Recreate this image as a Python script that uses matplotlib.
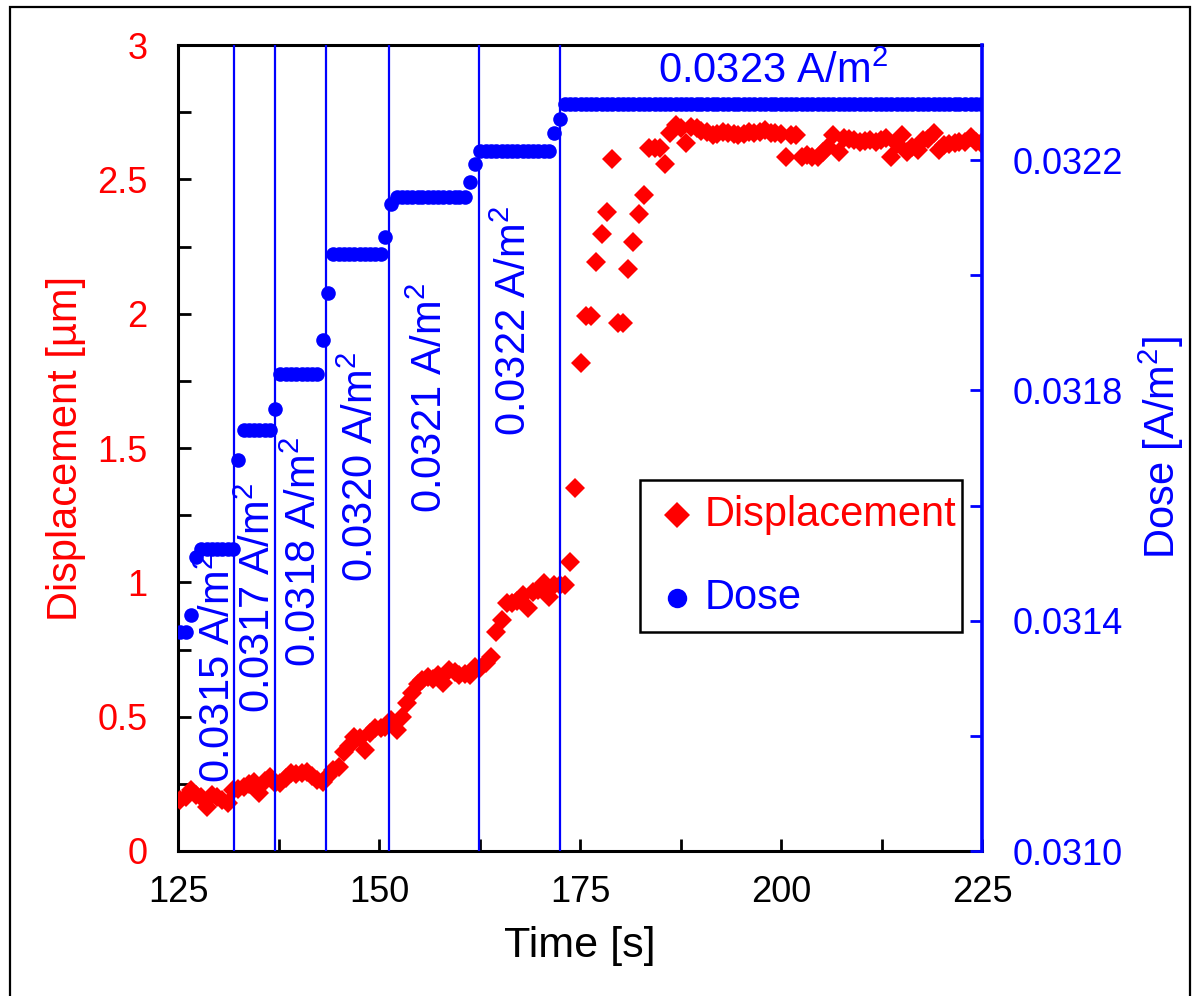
import matplotlib
matplotlib.use('Agg')
import matplotlib.pyplot as plt
from matplotlib.ticker import MultipleLocator, FixedLocator, FuncFormatter
from matplotlib.lines import Line2D
from matplotlib.patches import Rectangle

plt.rcParams['font.family'] = ['Liberation Sans', 'DejaVu Sans']
plt.rcParams['mathtext.fontset'] = 'custom'
plt.rcParams['mathtext.rm'] = 'Liberation Sans'
plt.rcParams['mathtext.it'] = 'Liberation Sans'
plt.rcParams['mathtext.default'] = 'regular'

# ---------------- data ----------------
time_s = [
    125.3, 126.0, 126.6, 127.3, 127.9, 128.6, 129.2, 129.9, 130.5, 131.2,
    131.9, 132.5, 133.2, 133.8, 134.5, 135.1, 135.8, 136.4, 137.1, 137.7,
    138.4, 139.1, 139.7, 140.4, 141.0, 141.7, 142.3, 143.0, 143.6, 144.3,
    145.0, 145.6, 146.3, 146.9, 147.6, 148.2, 148.9, 149.5, 150.2, 150.8,
    151.5, 152.2, 152.8, 153.5, 154.1, 154.8, 155.4, 156.1, 156.7, 157.4,
    158.0, 158.7, 159.4, 160.0, 160.7, 161.3, 162.0, 162.6, 163.3, 163.9,
    164.6, 165.3, 165.9, 166.6, 167.2, 167.9, 168.5, 169.2, 169.8, 170.5,
    171.2, 171.8, 172.5, 173.1, 173.8, 174.4, 175.1, 175.7, 176.4, 177.0,
    177.7, 178.4, 179.0, 179.7, 180.3, 181.0, 181.6, 182.3, 182.9, 183.6,
    184.3, 184.9, 185.6, 186.2, 186.9, 187.5, 188.2, 188.8, 189.5, 190.1,
    190.8, 191.5, 192.1, 192.8, 193.4, 194.1, 194.7, 195.4, 196.0, 196.7,
    197.4, 198.0, 198.7, 199.3, 200.0, 200.6, 201.3, 201.9, 202.6, 203.2,
    203.9, 204.6, 205.2, 205.9, 206.5, 207.2, 207.8, 208.5, 209.1, 209.8,
    210.5, 211.1, 211.8, 212.4, 213.1, 213.7, 214.4, 215.0, 215.7, 216.3,
    217.0, 217.7, 218.3, 219.0, 219.6, 220.3, 220.9, 221.6, 222.2, 222.9,
    223.6, 224.2, 224.9,
]

displacement_um = [
    0.19, 0.20, 0.227, 0.21, 0.20, 0.165, 0.21, 0.20, 0.19, 0.178,
    0.227, 0.23, 0.24, 0.25, 0.258, 0.216, 0.26, 0.277, 0.252, 0.252,
    0.27, 0.29, 0.285, 0.29, 0.295, 0.28, 0.264, 0.258, 0.28, 0.30,
    0.314, 0.37, 0.39, 0.425, 0.42, 0.376, 0.44, 0.457, 0.457, 0.46,
    0.488, 0.45, 0.50, 0.55, 0.587, 0.62, 0.636, 0.649, 0.64, 0.655,
    0.624, 0.674, 0.665, 0.655, 0.66, 0.655, 0.686, 0.68, 0.70, 0.723,
    0.816, 0.86, 0.922, 0.922, 0.93, 0.953, 0.903, 0.965, 0.97, 0.996,
    0.947, 0.99, 0.99, 0.99, 1.077, 1.35, 1.815, 1.99, 1.99, 2.193,
    2.296, 2.38, 2.574, 1.964, 1.964, 2.166, 2.266, 2.37, 2.442, 2.615,
    2.615, 2.615, 2.557, 2.674, 2.702, 2.69, 2.634, 2.696, 2.69, 2.68,
    2.677, 2.665, 2.67, 2.677, 2.671, 2.668, 2.665, 2.67, 2.677, 2.671,
    2.675, 2.683, 2.671, 2.671, 2.668, 2.584, 2.665, 2.665, 2.584, 2.59,
    2.584, 2.584, 2.60, 2.62, 2.665, 2.603, 2.652, 2.65, 2.646, 2.64,
    2.643, 2.646, 2.64, 2.645, 2.652, 2.584, 2.63, 2.665, 2.603, 2.62,
    2.609, 2.646, 2.65, 2.671, 2.609, 2.628, 2.63, 2.634, 2.64, 2.64,
    2.658, 2.64, 2.634,
]

dose_Am2 = [
    0.03138, 0.03138, 0.03141, 0.03151, 0.031525, 0.031525, 0.031525, 0.031525, 0.031525, 0.031525,
    0.031525, 0.03168, 0.031731, 0.031731, 0.031731, 0.031731, 0.031731, 0.031731, 0.031767, 0.031828,
    0.031828, 0.031828, 0.031828, 0.031828, 0.031828, 0.031828, 0.031828, 0.031888, 0.03197, 0.032037,
    0.032037, 0.032037, 0.032037, 0.032037, 0.032037, 0.032037, 0.032037, 0.032037, 0.032037, 0.032067,
    0.032124, 0.032136, 0.032136, 0.032136, 0.032136, 0.032136, 0.032136, 0.032136, 0.032136, 0.032136,
    0.032136, 0.032136, 0.032136, 0.032136, 0.032136, 0.032162, 0.032193, 0.032216, 0.032216, 0.032216,
    0.032216, 0.032216, 0.032216, 0.032216, 0.032216, 0.032216, 0.032216, 0.032216, 0.032216, 0.032216,
    0.032216, 0.032247, 0.032271, 0.032297, 0.032297, 0.032297, 0.032297, 0.032297, 0.032297, 0.032297,
    0.032297, 0.032297, 0.032297, 0.032297, 0.032297, 0.032297, 0.032297, 0.032297, 0.032297, 0.032297,
    0.032297, 0.032297, 0.032297, 0.032297, 0.032297, 0.032297, 0.032297, 0.032297, 0.032297, 0.032297,
    0.032297, 0.032297, 0.032297, 0.032297, 0.032297, 0.032297, 0.032297, 0.032297, 0.032297, 0.032297,
    0.032297, 0.032297, 0.032297, 0.032297, 0.032297, 0.032297, 0.032297, 0.032297, 0.032297, 0.032297,
    0.032297, 0.032297, 0.032297, 0.032297, 0.032297, 0.032297, 0.032297, 0.032297, 0.032297, 0.032297,
    0.032297, 0.032297, 0.032297, 0.032297, 0.032297, 0.032297, 0.032297, 0.032297, 0.032297, 0.032297,
    0.032297, 0.032297, 0.032297, 0.032297, 0.032297, 0.032297, 0.032297, 0.032297, 0.032297, 0.032297,
    0.032297, 0.032297, 0.032297,
]

switch_times = [132.0, 137.1, 143.4, 151.2, 162.4, 172.5]
step_labels = ['0.0315 A/m$^2$', '0.0317 A/m$^2$', '0.0318 A/m$^2$',
               '0.0320 A/m$^2$', '0.0321 A/m$^2$', '0.0322 A/m$^2$']
final_label = '0.0323 A/m$^2$'

dose_major_ticks = [0.0310, 0.0314, 0.0318, 0.0322]
dose_minor_ticks = [0.0312, 0.0316, 0.0320]

# label anchor positions (time, displacement units)
label_t = [130.1, 135.1, 140.8, 147.8, 156.5, 166.9]
label_y = [0.253, 0.514, 0.685, 1.001, 1.258, 1.545]

RED = '#ff0000'
BLUE = '#0000ff'

fig = plt.figure(figsize=(12, 9.96), dpi=100)
ax = fig.add_axes([178 / 1200, 1 - 851 / 996, 804 / 1200, 806 / 996])

ax.plot(time_s, displacement_um, ls='none', marker='D', ms=10.5,
        mfc=RED, mec=RED, mew=0, zorder=3)
ax.set_xlim(125, 225)
ax.set_ylim(0, 3)
ax.xaxis.set_major_locator(MultipleLocator(25))
ax.xaxis.set_minor_locator(MultipleLocator(12.5))
ax.yaxis.set_major_locator(MultipleLocator(0.5))
ax.yaxis.set_minor_locator(MultipleLocator(0.25))
ax.yaxis.set_major_formatter(FuncFormatter(lambda v, p: f'{v:g}'))
ax.tick_params(axis='both', which='both', direction='in', length=9, width=2,
               labelsize=26, top=False, right=False)
ax.tick_params(axis='y', which='both', labelcolor=RED, pad=22)
ax.tick_params(axis='x', which='both', pad=17)
for s in ['left', 'bottom', 'top']:
    ax.spines[s].set_linewidth(2.2)
ax.spines['right'].set_visible(False)
ax.set_xlabel('Time [s]', fontsize=31, labelpad=12)
ax.set_ylabel('Displacement [µm]', fontsize=30, color=RED, labelpad=8)

ax2 = ax.twinx()
ax2.plot(time_s, dose_Am2, ls='none', marker='o', ms=10.5,
         mfc=BLUE, mec=BLUE, mew=0, zorder=3)
for t in switch_times:
    ax2.axvline(t, color=BLUE, lw=1.6, zorder=4)
ax2.set_ylim(0.0310, 0.0324)
ax2.yaxis.set_major_locator(FixedLocator(dose_major_ticks))
ax2.yaxis.set_minor_locator(FixedLocator(dose_minor_ticks))
ax2.yaxis.set_major_formatter(FuncFormatter(lambda v, p: f'{v:.4f}'))
ax2.tick_params(axis='y', which='both', direction='in', length=9, width=2,
                colors=BLUE, labelsize=26, pad=22)
for s in ['left', 'bottom', 'top']:
    ax2.spines[s].set_visible(False)
ax2.spines['right'].set_color(BLUE)
ax2.spines['right'].set_linewidth(2.6)
ax2.set_ylabel('Dose [A/m$^2$]', fontsize=30, color=BLUE, labelpad=10)

for t, y, lab in zip(label_t, label_y, step_labels):
    ax2.text(t, y, lab, transform=ax.transData, rotation=90, ha='center',
             va='bottom', fontsize=30, color=BLUE, zorder=5)
ax2.text(199.0, 2.9, final_label, transform=ax.transData, ha='center',
         va='center', fontsize=30, color=BLUE, zorder=5)

# legend box (drawn in axes fraction coordinates)
def ax_frac(px, py):
    return ((px - 178) / 804, (851 - py) / 806)

x0, y0 = ax_frac(640, 632)
x1, y1 = ax_frac(962, 480)
ax2.add_patch(Rectangle((x0, y0), x1 - x0, y1 - y0, transform=ax2.transAxes,
                        fill=True, fc='white', ec='black', lw=1.8, zorder=6,
                        clip_on=False))
legend_entries = [('Displacement', 'D', 13.0, RED, 515),
                  ('Dose', 'o', 14.0, BLUE, 598)]
for lab, mk, ms, col, py in legend_entries:
    mx, my = ax_frac(677, py)
    tx, _ = ax_frac(705, py)
    ax2.add_line(Line2D([mx], [my], ls='none', marker=mk, ms=ms, mfc=col,
                        mec=col, mew=0, transform=ax2.transAxes, zorder=7,
                        clip_on=False))
    ax2.text(tx, my, lab, transform=ax2.transAxes, ha='left', va='center',
             fontsize=30, color=col, zorder=7)

fig.patches.append(Rectangle((10 / 1200, -0.05), 1180 / 1200, 1 - 7 / 996 + 0.05,
                             transform=fig.transFigure, fill=False,
                             ec='black', lw=1.6))

fig.savefig('out.png', dpi=100)
